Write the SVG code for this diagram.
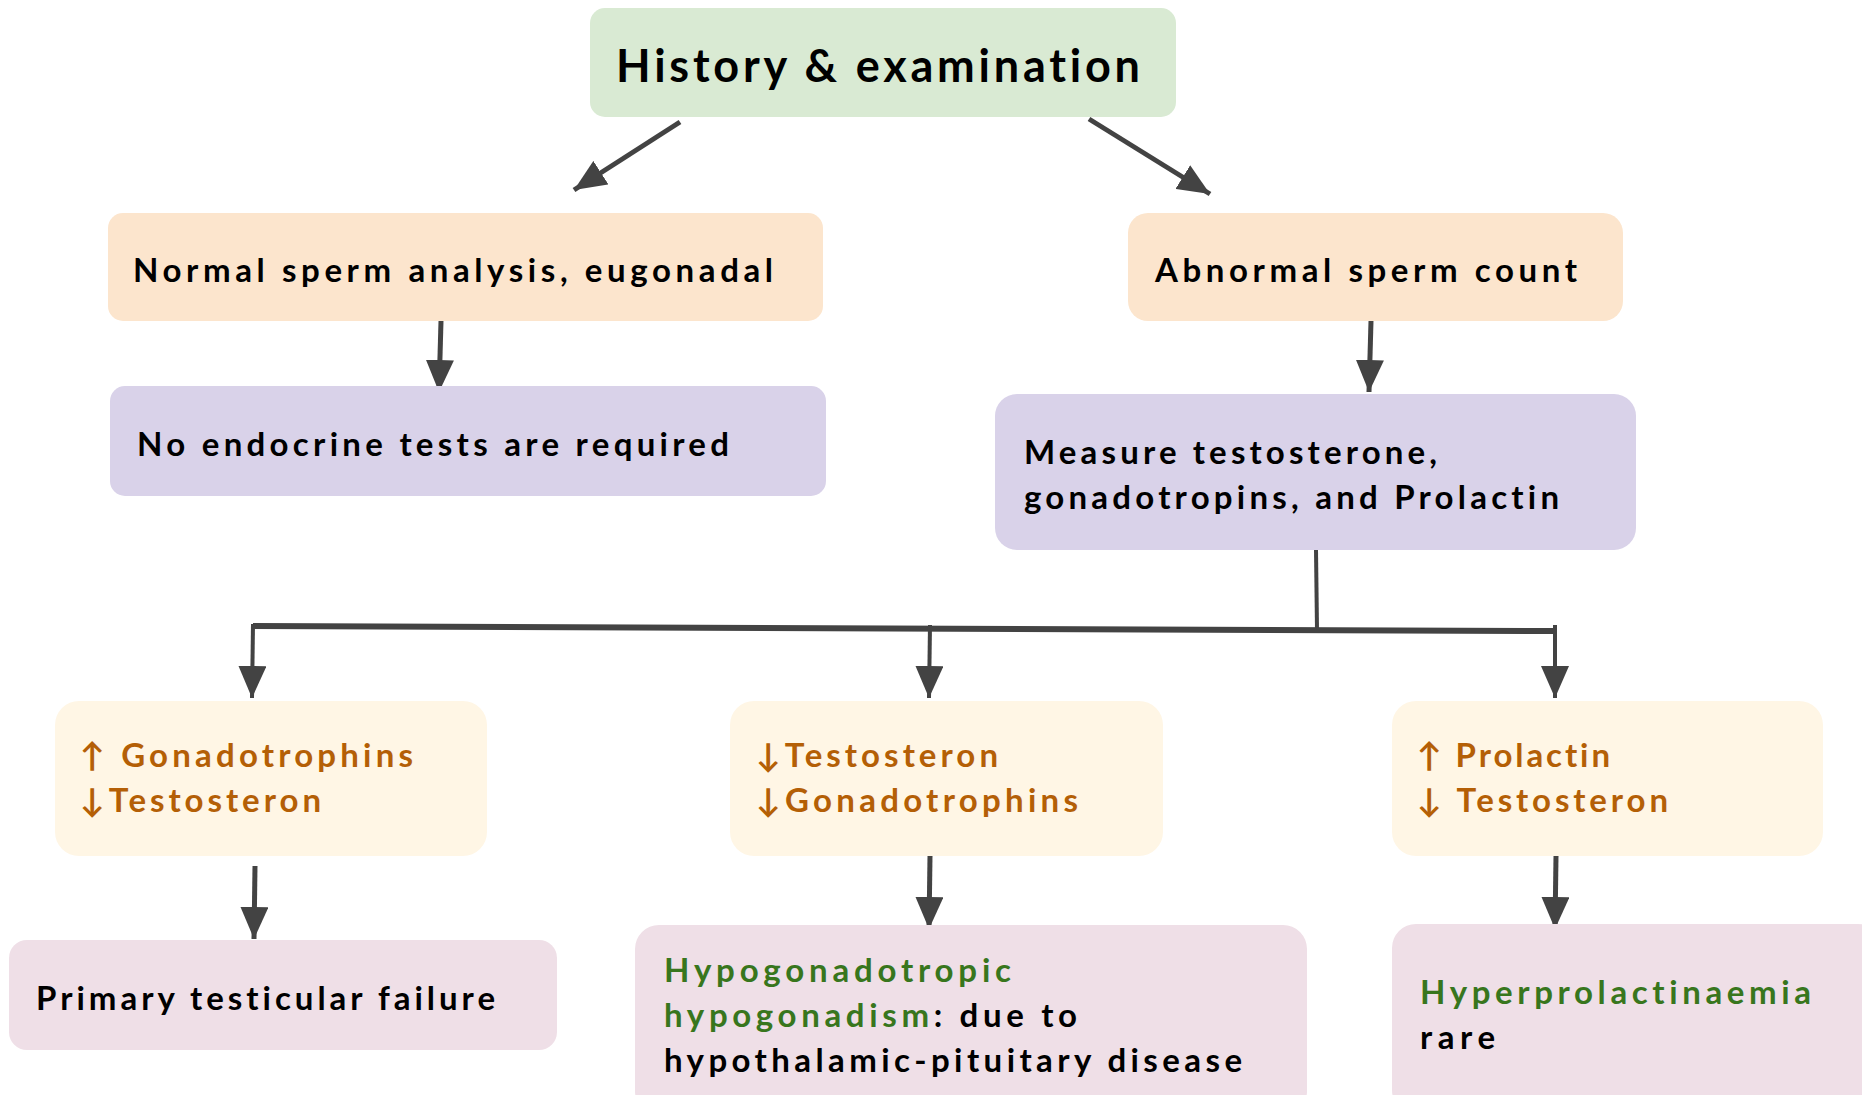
<svg xmlns="http://www.w3.org/2000/svg" width="1862" height="1095" viewBox="0 0 1862 1095">
<style>
text{font-family:Lato,"Liberation Sans",sans-serif;font-weight:700;fill:#000;font-variant-ligatures:none}
.t1{font-size:45px}
.t2{font-size:33px}
.or{fill:#b45f06}
.gr{fill:#38761d}
.green{fill:#d9ead3}
.peach{fill:#fce5cd}
.lav{fill:#d9d2e9}
.cream{fill:#fff6e5}
.pink{fill:#efdfe7}
.c{stroke:#434343;stroke-width:5;fill:none}
</style>
<defs>
<marker id="ah" viewBox="0 0 32 28" refX="32" refY="14" markerWidth="32" markerHeight="28" orient="auto" markerUnits="userSpaceOnUse">
<path d="M0,0 L32,14 L0,28 z" fill="#434343"/>
</marker>
</defs>
<g id="connectors">
<line class="c" x1="680" y1="122" x2="574" y2="190" marker-end="url(#ah)"/>
<line class="c" x1="1089" y1="119" x2="1210" y2="194" marker-end="url(#ah)"/>
<line class="c" x1="441" y1="321" x2="439" y2="392" marker-end="url(#ah)"/>
<line class="c" x1="1371" y1="321" x2="1369" y2="392" marker-end="url(#ah)"/>
<line class="c" x1="1316" y1="550" x2="1317" y2="630" style="stroke-width:4"/>
<line class="c" x1="253" y1="626" x2="1556" y2="631" style="stroke-width:6"/>
<line class="c" x1="253" y1="624" x2="252" y2="698" marker-end="url(#ah)" style="stroke-width:4"/>
<line class="c" x1="930" y1="625" x2="929" y2="698" marker-end="url(#ah)" style="stroke-width:4"/>
<line class="c" x1="1555" y1="625" x2="1555" y2="698" marker-end="url(#ah)" style="stroke-width:4"/>
<line class="c" x1="255" y1="866" x2="254" y2="939" marker-end="url(#ah)"/>
<line class="c" x1="930" y1="856" x2="929" y2="929" marker-end="url(#ah)"/>
<line class="c" x1="1556" y1="856" x2="1555" y2="929" marker-end="url(#ah)"/>
</g>
<g id="history">
<rect class="green" x="590" y="8" width="586" height="109" rx="15"/>
<text class="t1" x="616" y="82" textLength="524" lengthAdjust="spacing">History &amp; examination</text>
</g>
<g id="normal">
<rect class="peach" x="108" y="213" width="715" height="108" rx="15"/>
<text class="t2" x="133" y="282" textLength="640" lengthAdjust="spacing">Normal sperm analysis, eugonadal</text>
</g>
<g id="no-endocrine">
<rect class="lav" x="110" y="386" width="716" height="110" rx="15"/>
<text class="t2" x="137" y="456" textLength="592" lengthAdjust="spacing">No endocrine tests are required</text>
</g>
<g id="abnormal">
<rect class="peach" x="1128" y="213" width="495" height="108" rx="20"/>
<text class="t2" x="1155" y="282" textLength="422" lengthAdjust="spacing">Abnormal sperm count</text>
</g>
<g id="measure">
<rect class="lav" x="995" y="394" width="641" height="156" rx="22"/>
<text class="t2" x="1024" y="464" textLength="413" lengthAdjust="spacing">Measure testosterone,</text>
<text class="t2" x="1024" y="509" textLength="535" lengthAdjust="spacing">gonadotropins, and Prolactin</text>
</g>
<g id="primary-pattern">
<rect class="cream" x="55" y="701" width="432" height="155" rx="24"/>
<text class="t2 or" x="80" y="767" textLength="333" lengthAdjust="spacing">↑ Gonadotrophins</text>
<text class="t2 or" x="80" y="812" textLength="241" lengthAdjust="spacing">↓Testosteron</text>
</g>
<g id="secondary-pattern">
<rect class="cream" x="730" y="701" width="433" height="155" rx="24"/>
<text class="t2 or" x="756" y="767" textLength="242" lengthAdjust="spacing">↓Testosteron</text>
<text class="t2 or" x="756" y="812" textLength="322" lengthAdjust="spacing">↓Gonadotrophins</text>
</g>
<g id="prolactin-pattern">
<rect class="cream" x="1392" y="701" width="431" height="155" rx="24"/>
<text class="t2 or" x="1417" y="767" textLength="193" lengthAdjust="spacing">↑ Prolactin</text>
<text class="t2 or" x="1417" y="812" textLength="251" lengthAdjust="spacing">↓ Testosteron</text>
</g>
<g id="primary-failure">
<rect class="pink" x="9" y="940" width="548" height="110" rx="18"/>
<text class="t2" x="36" y="1010" textLength="459" lengthAdjust="spacing">Primary testicular failure</text>
</g>
<g id="hypogonadotropic">
<rect class="pink" x="635" y="925" width="672" height="190" rx="24"/>
<text class="t2 gr" x="664" y="982" textLength="347" lengthAdjust="spacing">Hypogonadotropic</text>
<text class="t2" x="664" y="1027" textLength="413" lengthAdjust="spacing"><tspan class="gr">hypogonadism</tspan>: due to</text>
<text class="t2" x="664" y="1072" textLength="578" lengthAdjust="spacing">hypothalamic-pituitary disease</text>
</g>
<g id="hyperprolactinaemia">
<rect class="pink" x="1392" y="924" width="490" height="190" rx="24"/>
<text class="t2 gr" x="1420" y="1004" textLength="391" lengthAdjust="spacing">Hyperprolactinaemia</text>
<text class="t2" x="1420" y="1049" textLength="75" lengthAdjust="spacing">rare</text>
</g>
</svg>
